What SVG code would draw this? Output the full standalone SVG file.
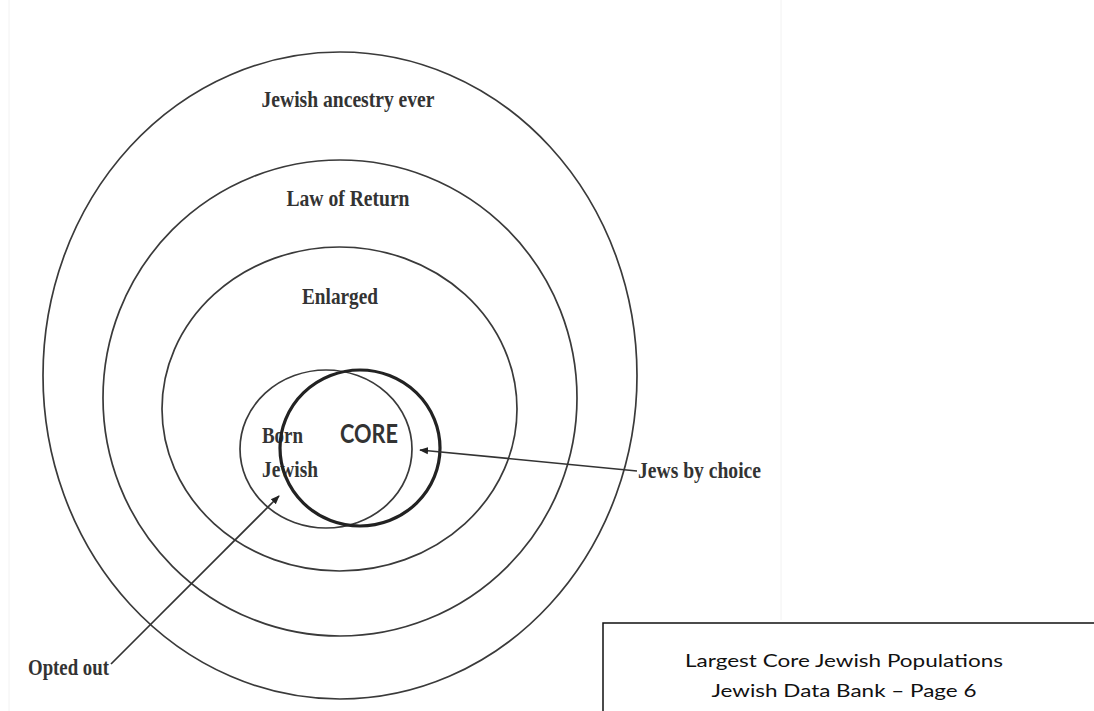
<svg xmlns="http://www.w3.org/2000/svg" width="1094" height="711" viewBox="0 0 1094 711">
<style>
.ring{fill:none;stroke:#3a3a3a;stroke-width:1.7}
.core{fill:none;stroke:#222;stroke-width:3.2}
.lbl{font-family:"Liberation Serif","Times New Roman",serif;font-weight:bold;fill:#333;font-size:24px}
.conn{stroke:#333;stroke-width:1.7;fill:none}
.cap{font-family:Lato,"Liberation Sans",sans-serif;font-size:18px;fill:#111}
</style>
<defs>
<marker id="ah" viewBox="0 0 10 10" refX="9" refY="5" markerWidth="9" markerHeight="9" orient="auto" markerUnits="userSpaceOnUse">
<path d="M0,1 L10,5 L0,9 Z" fill="#222"/>
</marker>
</defs>
<rect width="1094" height="711" fill="#fff"/>
<line x1="9" y1="0" x2="9" y2="711" stroke="#f2f2f2" stroke-width="1"/>
<line x1="781" y1="0" x2="781" y2="620" stroke="#f2f2f2" stroke-width="1"/>
<g id="ancestry">
<ellipse class="ring" cx="340" cy="375.5" rx="297" ry="323.5"/>
<text class="lbl" x="348" y="107" text-anchor="middle" textLength="173" lengthAdjust="spacingAndGlyphs">Jewish ancestry ever</text>
</g>
<g id="lawofreturn">
<ellipse class="ring" cx="340" cy="398" rx="237" ry="238"/>
<text class="lbl" x="348" y="206" text-anchor="middle" textLength="123" lengthAdjust="spacingAndGlyphs">Law of Return</text>
</g>
<g id="enlarged">
<ellipse class="ring" cx="339.5" cy="409" rx="177.5" ry="162"/>
<text class="lbl" x="340" y="304" text-anchor="middle" textLength="76" lengthAdjust="spacingAndGlyphs">Enlarged</text>
</g>
<g id="born">
<ellipse class="ring" cx="326" cy="449" rx="86" ry="79"/>
<text class="lbl" x="262" y="443" textLength="41" lengthAdjust="spacingAndGlyphs">Born</text>
<text class="lbl" x="262" y="477" textLength="56" lengthAdjust="spacingAndGlyphs">Jewish</text>
</g>
<g id="core">
<ellipse class="core" cx="360" cy="448" rx="80" ry="78"/>
<text x="340" y="443" font-family="Lato,'Liberation Sans',Arial,sans-serif" font-weight="bold" font-size="26" fill="#333" textLength="58" lengthAdjust="spacingAndGlyphs">CORE</text>
</g>
<g id="choice">
<text class="lbl" x="638" y="478" font-size="22" textLength="123" lengthAdjust="spacingAndGlyphs">Jews by choice</text>
</g>
<g id="optedout">
<text class="lbl" x="28" y="675" font-size="22" textLength="81" lengthAdjust="spacingAndGlyphs">Opted out</text>
</g>
<g id="connectors">
<line class="conn" x1="637" y1="471" x2="420" y2="450" marker-end="url(#ah)"/>
<line class="conn" x1="111" y1="664" x2="279" y2="496" marker-end="url(#ah)"/>
</g>
<g id="caption">
<polyline points="603,711 603,623 1094,623" fill="none" stroke="#111" stroke-width="1.5"/>
<text class="cap" x="844" y="667" text-anchor="middle" textLength="318" lengthAdjust="spacingAndGlyphs">Largest Core Jewish Populations</text>
<text class="cap" x="844" y="697" text-anchor="middle" textLength="265" lengthAdjust="spacingAndGlyphs">Jewish Data Bank – Page 6</text>
</g>
</svg>
